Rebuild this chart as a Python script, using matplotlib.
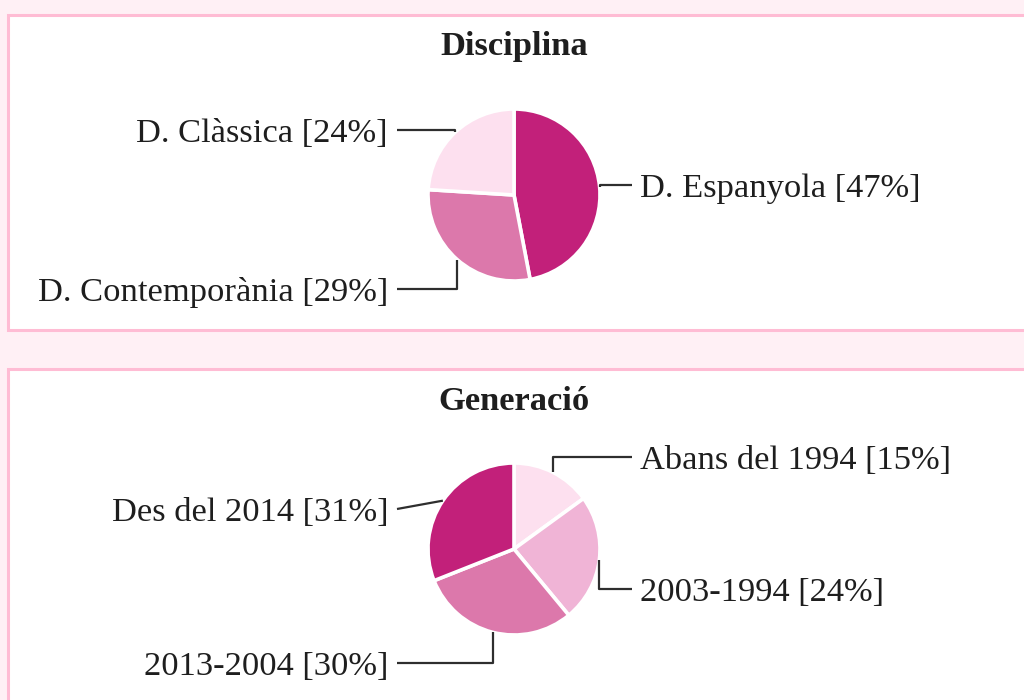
import numpy as np
import matplotlib
matplotlib.use('Agg')
import matplotlib.pyplot as plt
from matplotlib.patches import Rectangle

# data
disc_labels = ['D. Espanyola', 'D. Contemporània', 'D. Clàssica']
disc_values = [47, 29, 24]
gen_labels = ['Abans del 1994', '2003-1994', '2013-2004', 'Des del 2014']
gen_values = [15, 24, 30, 31]

disc_colors = ['#c2207a', '#dc78ab', '#fde0ef']
gen_colors = ['#fde0ef', '#f0b4d6', '#dc78ab', '#c2207a']

W, H = 1024, 700
plt.rcParams['font.family'] = ['Liberation Serif', 'DejaVu Serif']

fig = plt.figure(figsize=(W / 100, H / 100), dpi=100)
fig.patch.set_facecolor('#fff0f5')
ax = fig.add_axes([0, 0, 1, 1])
ax.set_facecolor('#fff0f5')


def py(y):
    return H - y


# panels
border = '#ffbcd4'
ax.add_patch(Rectangle((8, py(330)), 1100, 315, facecolor='white', edgecolor=border, lw=2.2, zorder=0))
ax.add_patch(Rectangle((8, -50), 1100, py(369) + 50, facecolor='white', edgecolor=border, lw=2.2, zorder=0))

ax.text(514, py(47), 'Disciplina', ha='center', va='center', fontsize=24.8, fontweight='bold', color='#1e1e1e')
ax.text(514, py(402), 'Generació', ha='center', va='center', fontsize=24.8, fontweight='bold', color='#1e1e1e')

R = 86
LEFT_TXT, LEFT_LINE = 388, 397
RIGHT_TXT, RIGHT_LINE = 640, 632


def draw_pie(values, labels, colors, center, label_y, styles):
    wedges, _ = ax.pie(values, colors=colors, startangle=90, counterclock=False,
                       radius=R, center=center, frame=True,
                       wedgeprops=dict(edgecolor='white', linewidth=2.6))
    for w, lab, v, ly, st in zip(wedges, labels, values, label_y, styles):
        mid = np.deg2rad((w.theta1 + w.theta2) / 2)
        x0 = center[0] + R * np.cos(mid)
        y0 = center[1] + R * np.sin(mid)
        right = x0 > center[0]
        lx = RIGHT_LINE if right else LEFT_LINE
        ly = py(ly)
        if st == 'elbow':
            xs, ys = [x0, x0, lx], [y0, ly, ly]
        else:
            xs, ys = [x0, lx], [y0, ly]
        ax.plot(xs, ys, color='#2e2e2e', lw=1.6, solid_capstyle='butt')
        ax.text(RIGHT_TXT if right else LEFT_TXT, ly, f'{lab} [{v}%]',
                ha='left' if right else 'right', va='center_baseline',
                fontsize=24.8, color='#1e1e1e')


draw_pie(disc_values, disc_labels, disc_colors, (514, py(195)),
         [185, 289, 130], ['elbow', 'elbow', 'elbow'])
draw_pie(gen_values, gen_labels, gen_colors, (514, py(549)),
         [457, 589, 663, 509], ['elbow', 'elbow', 'elbow', 'straight'])

ax.set_xlim(0, W)
ax.set_ylim(0, H)
ax.set_aspect('auto')
ax.set_axis_off()

fig.savefig('out.png', dpi=100, facecolor=fig.get_facecolor())
